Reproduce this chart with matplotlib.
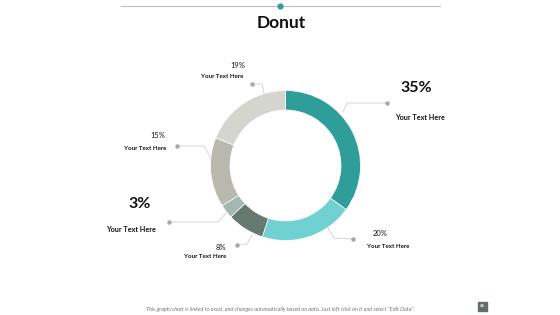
import matplotlib
matplotlib.use("Agg")
import matplotlib.pyplot as plt

plt.rcParams['font.family'] = ['Lato', 'DejaVu Sans']

# slice data, clockwise from the top
shares = [35, 20, 8, 3, 15, 19]
labels = ["Your Text Here"] * 6
colors = ['#2f9e9b', '#70d0d2', '#66786f', '#a5b7b1', '#b8b8ae', '#d5d5d0']

W, H = 560, 315
cx, cy, R = 285.5, 165.5, 75

fig = plt.figure(figsize=(W / 100, H / 100), dpi=100)
fig.patch.set_facecolor('white')

# donut
axd = fig.add_axes([(cx - R) / W, (H - cy - R) / H, 2 * R / W, 2 * R / H])
axd.pie(shares, colors=colors, startangle=90, counterclock=False, radius=1,
        wedgeprops=dict(width=0.26, edgecolor='white', linewidth=0.5))
axd.set_xlim(-1, 1)
axd.set_ylim(-1, 1)
axd.axis('off')

# overlay in pixel coordinates
ax = fig.add_axes([0, 0, 1, 1])
ax.set_xlim(0, W)
ax.set_ylim(H, 0)
ax.axis('off')

# header rule and title
ax.plot([121, 440], [6, 6], color='#bdbdbd', lw=0.8)
ax.plot([280], [6], 'o', color='#2f9e9b', ms=3.5)
ax.text(281, 23, "Donut", ha='center', va='center', fontsize=12.5,
        fontweight='bold', color='#111111')

# leader lines
leaders = [
    [(343, 112), (347, 103), (387, 103)],
    [(328, 228), (334, 238), (353, 239)],
    [(252, 235), (247, 244), (237, 245)],
    [(226, 213), (218, 222), (169, 222)],
    [(211, 158), (204, 146), (177, 146)],
    [(264, 93), (262, 84), (252, 84)],
]
for pts in leaders:
    xs = [p[0] for p in pts]
    ys = [p[1] for p in pts]
    ax.plot(xs, ys, color='#cfcfcf', lw=0.6)
    ax.plot([xs[-1]], [ys[-1]], 'o', color='#a8a8a8', ms=2.2)

# label positions: (pct x, pct y, text x, text y, big)
spots = [
    (416, 88, 420, 118, True),
    (380, 234, 388, 246, False),
    (221, 247, 205, 256, False),
    (140, 204, 131, 229, True),
    (158, 136, 145, 149, False),
    (238, 66, 222, 76, False),
]
for v, lab, (px, py, tx, ty, big) in zip(shares, labels, spots):
    if big:
        ax.text(px, py, f"{v}%", ha='center', va='center', fontsize=11.5,
                fontweight='bold', color='#111111')
        ax.text(tx, ty, lab, ha='center', va='center', fontsize=5.2,
                fontweight='bold', color='#111111')
    else:
        ax.text(px, py, f"{v}%", ha='center', va='center', fontsize=5.4,
                color='#111111')
        ax.text(tx, ty, lab, ha='center', va='center', fontsize=4.4,
                fontweight='bold', color='#111111')

# footer
ax.text(280, 309, 'This graph/chart is linked to excel, and changes automatically based on data. '
        'Just left click on it and select \u201cEdit Data\u201d.',
        ha='center', va='center', fontsize=4.0, style='italic', color='#777777')
ax.add_patch(plt.Rectangle((477.5, 301.5), 9, 9, color='#5f7067'))
ax.text(482, 306, "26", ha='center', va='center', fontsize=3.2, color='white',
        fontweight='bold')

fig.savefig("out.png", dpi=100, facecolor='white')
